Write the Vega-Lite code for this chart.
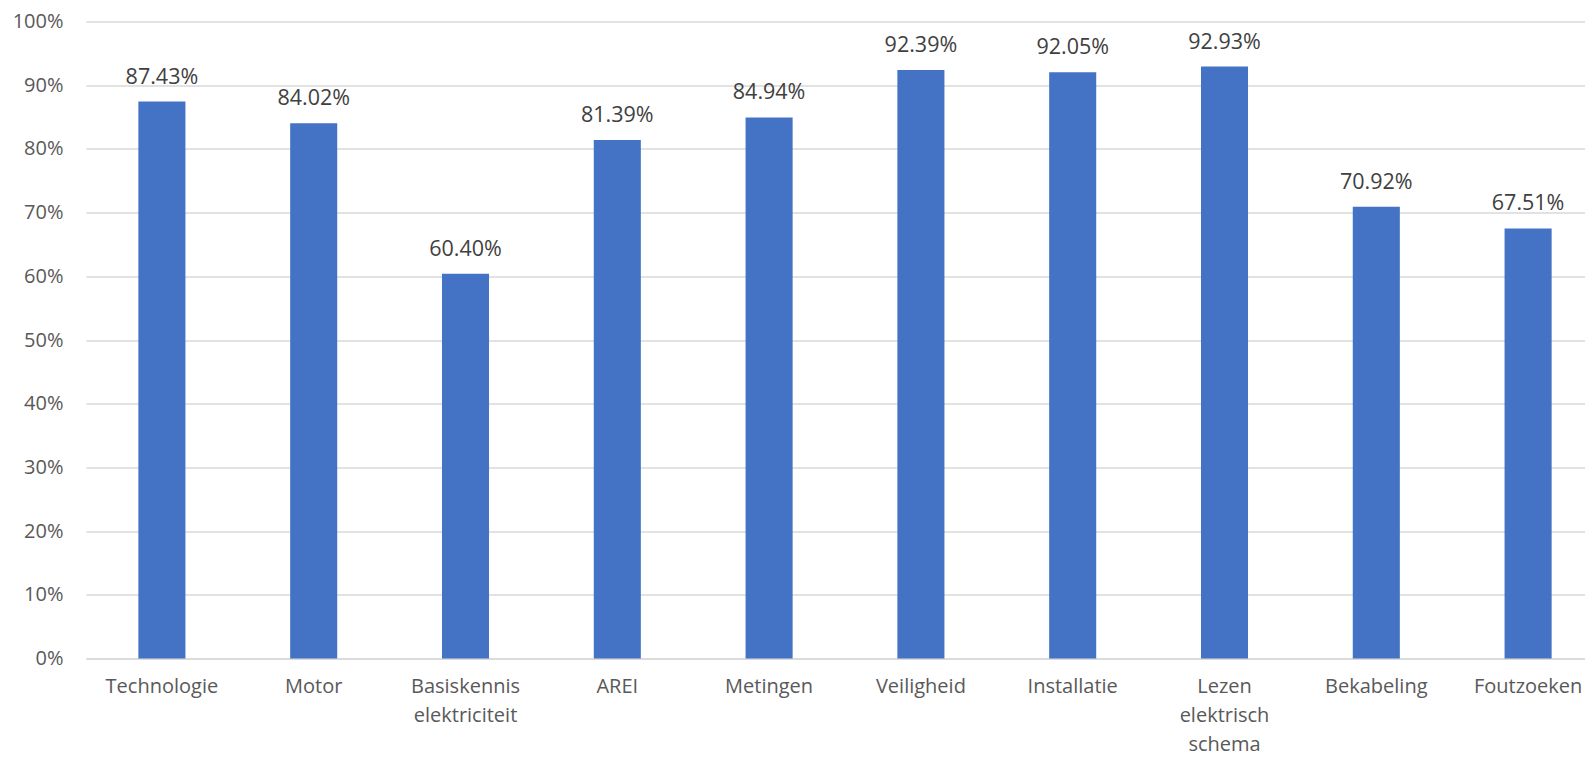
{
  "$schema": "https://vega.github.io/schema/vega-lite/v6.json",
  "autosize": "none",
  "width": 1499,
  "height": 637,
  "padding": {"left": 86, "top": 21.5, "right": 0, "bottom": 99.5},
  "background": "white",
  "config": {
    "view": {"stroke": null},
    "font": "Open Sans"
  },
  "data": {
    "values": [
      {"onderdeel": "Technologie", "score": 0.8743},
      {"onderdeel": "Motor", "score": 0.8402},
      {"onderdeel": "Basiskennis elektriciteit", "score": 0.6040},
      {"onderdeel": "AREI", "score": 0.8139},
      {"onderdeel": "Metingen", "score": 0.8494},
      {"onderdeel": "Veiligheid", "score": 0.9239},
      {"onderdeel": "Installatie", "score": 0.9205},
      {"onderdeel": "Lezen elektrisch schema", "score": 0.9293},
      {"onderdeel": "Bekabeling", "score": 0.7092},
      {"onderdeel": "Foutzoeken", "score": 0.6751}
    ]
  },
  "encoding": {
    "x": {
      "field": "onderdeel",
      "type": "nominal",
      "sort": null,
      "title": null,
      "scale": {"range": [0, 1518], "paddingInner": 0.69, "paddingOuter": 0.345},
      "axis": {
        "labelAngle": 0,
        "labelFont": "Open Sans",
        "labelFontSize": 20,
        "labelColor": "#595959",
        "labelPadding": 18,
        "labelLineHeight": 29,
        "labelExpr": "split(datum.value, ' ')",
        "ticks": false,
        "tickSize": 0,
        "domain": true,
        "domainColor": "#D9D9D9",
        "domainWidth": 1.5,
        "labelOverlap": false,
        "labelBound": false
      }
    },
    "y": {
      "field": "score",
      "type": "quantitative",
      "title": null,
      "scale": {"domain": [0, 1], "nice": false},
      "axis": {
        "format": ".0%",
        "values": [0, 0.1, 0.2, 0.3, 0.4, 0.5, 0.6, 0.7, 0.8, 0.9, 1],
        "labelFont": "Open Sans",
        "labelFontSize": 20,
        "labelColor": "#595959",
        "labelPadding": 23,
        "ticks": false,
        "tickSize": 0,
        "domain": false,
        "grid": true,
        "gridColor": "#D9D9D9",
        "gridWidth": 1.5
      }
    }
  },
  "layer": [
    {
      "mark": {"type": "bar", "color": "#4472C4"}
    },
    {
      "mark": {
        "type": "text",
        "font": "Open Sans",
        "fontSize": 21.5,
        "color": "#404040",
        "baseline": "alphabetic",
        "dy": -18
      },
      "encoding": {
        "text": {"field": "score", "type": "quantitative", "format": ".2%"}
      }
    }
  ]
}
